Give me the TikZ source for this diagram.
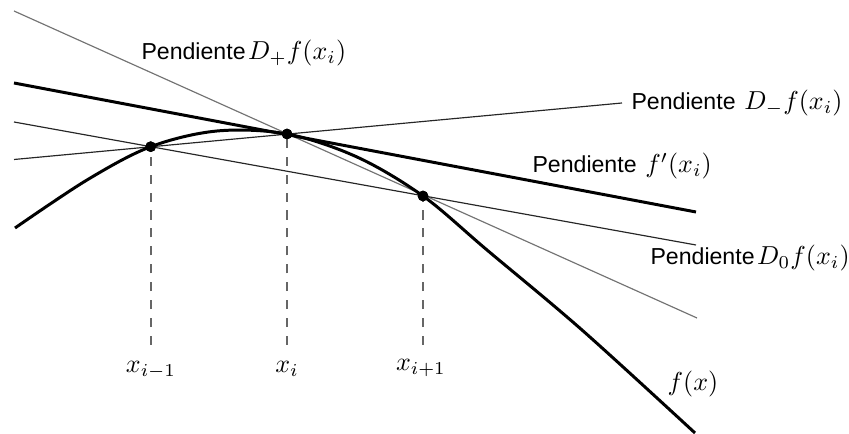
\documentclass[tikz,border=0pt]{standalone}
\usepackage{fontspec}
\newfontfamily\labelsans{Liberation Sans}
\newcommand{\pendtxt}{{\labelsans\fontsize{8.9}{10}\selectfont Pendiente}}
\begin{document}
\begin{tikzpicture}[x=0.385pt,y=-0.385pt,
  thickline/.style={line width=1.15pt,black},
  thinline/.style={line width=0.45pt,black!85},
  secline/.style={line width=0.45pt,black!55},
  dashline/.style={line width=0.7pt,black!60,dash pattern=on 3.5pt off 3.4pt},
  dot/.style={circle,fill=black,inner sep=0pt,minimum size=4.1pt},
  pend/.style={inner sep=0pt,anchor=base west},
  xlab/.style={inner sep=0pt,anchor=base}]
\useasboundingbox (0,0) rectangle (849,434);
% points on the curve
\node[dot] (pm) at (150.7,146.7) {};
\node[dot] (pi) at (287,134) {};
\node[dot] (pp) at (423,196) {};
% line end points
\coordinate (Dpa) at (14,11);   \coordinate (Dpb) at (697,318);
\coordinate (Ta)  at (14,83);   \coordinate (Tb)  at (696,212);
\coordinate (Dma) at (14,159.5); \coordinate (Dmb) at (622,103);
\coordinate (D0a) at (14,122);  \coordinate (D0b) at (696,245);
% secant and tangent lines
\draw[secline] (Dpa) -- (Dpb);
\draw[thinline] (Dma) -- (Dmb);
\draw[thinline] (D0a) -- (D0b);
\draw[thickline] (Ta) -- (Tb);
% curve
\draw[thickline,line join=round] plot[smooth,tension=0.55] coordinates
  {(15,228) (87,180) (150.7,146.7) (217,131) (287,134) (357,157) (423,196) (487,250) (582,330) (695,433)};
% dashed verticals
\coordinate (bm) at (150.7,345);
\coordinate (bi) at (287,345);
\coordinate (bp) at (423,345);
\draw[dashline] (bm) -- (pm.center);
\draw[dashline] (bi) -- (pi.center);
\draw[dashline] (bp) -- (pp.center);
% redraw dots on top
\node[dot] at (pm) {};
\node[dot] at (pi) {};
\node[dot] at (pp) {};
% labels
\node[pend] (lDp) at (141,60) {\pendtxt\kern1pt$D_+f(x_i)$};
\node[pend] (lDm) at (631,110) {\pendtxt\ $D_-f(x_i)$};
\node[pend] (lT) at (532,173) {\pendtxt\ $f'(x_i)$};
\node[pend] (lD0) at (650,265) {\pendtxt\kern1pt$D_0f(x_i)$};
\node[inner sep=0pt] (lf) at (693,384) {$f(x)$};
\node[xlab] (xm) at (151,373) {$x_{i-1}$};
\node[xlab] (xi) at (287,373) {$x_i$};
\node[xlab] (xp) at (421,371) {$x_{i+1}$};
\end{tikzpicture}
\end{document}
